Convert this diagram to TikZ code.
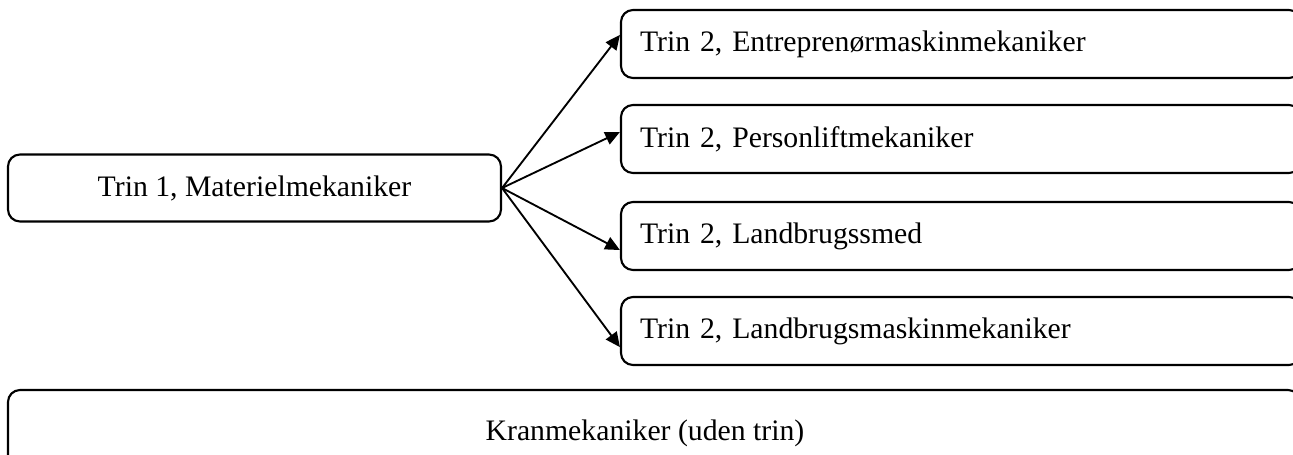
\documentclass[tikz,border=0pt]{standalone}
\usepackage{fontspec}
\setmainfont{Liberation Serif}
\usetikzlibrary{calc,arrows.meta}
\begin{document}
\frenchspacing
\begin{tikzpicture}[x=0.75pt,y=-0.75pt,
  box/.style={draw, line width=1.6pt, rounded corners=9pt, font=\fontsize{22.3}{26}\selectfont},
  leftbox/.style={box, minimum width=369.75pt, minimum height=50.25pt, inner sep=0pt},
  rightbox/.style={box, minimum width=510pt, minimum height=51pt, text width=481.5pt, inner xsep=14.25pt, inner ysep=0pt, align=left},
  bottombox/.style={box, minimum width=969pt, minimum height=64.5pt, inner sep=0pt},
  arr/.style={line width=1.4pt, -{Triangle[length=11pt,width=10pt]}}]
\useasboundingbox (0,0) rectangle (1293,454);
\clip (0,0) rectangle (1293,454);
\node[leftbox] (l) at (254.5,188) {Trin 1, Materielmekaniker};
\node[rightbox] (r1) at (961,44) {Trin 2, Entreprenørmaskinmekaniker};
\node[rightbox] (r2) at (961,139) {Trin 2, Personliftmekaniker};
\node[rightbox] (r3) at (961,236) {Trin 2, Landbrugssmed};
\node[rightbox] (r4) at (961,331) {Trin 2, Landbrugsmaskinmekaniker};
\node[bottombox] (b) at (654,433) {Kranmekaniker (uden trin)\hspace*{13.5pt}};
\coordinate (e1) at ($(r1.north west)!0.37!(r1.south west)$);
\coordinate (e2) at ($(r2.north west)!0.40!(r2.south west)$);
\coordinate (e3) at ($(r3.north west)!0.70!(r3.south west)$);
\coordinate (e4) at ($(r4.north west)!0.73!(r4.south west)$);
\draw[arr] (l.east) -- (e1);
\draw[arr] (l.east) -- (e2);
\draw[arr] (l.east) -- (e3);
\draw[arr] (l.east) -- (e4);
\end{tikzpicture}
\end{document}
